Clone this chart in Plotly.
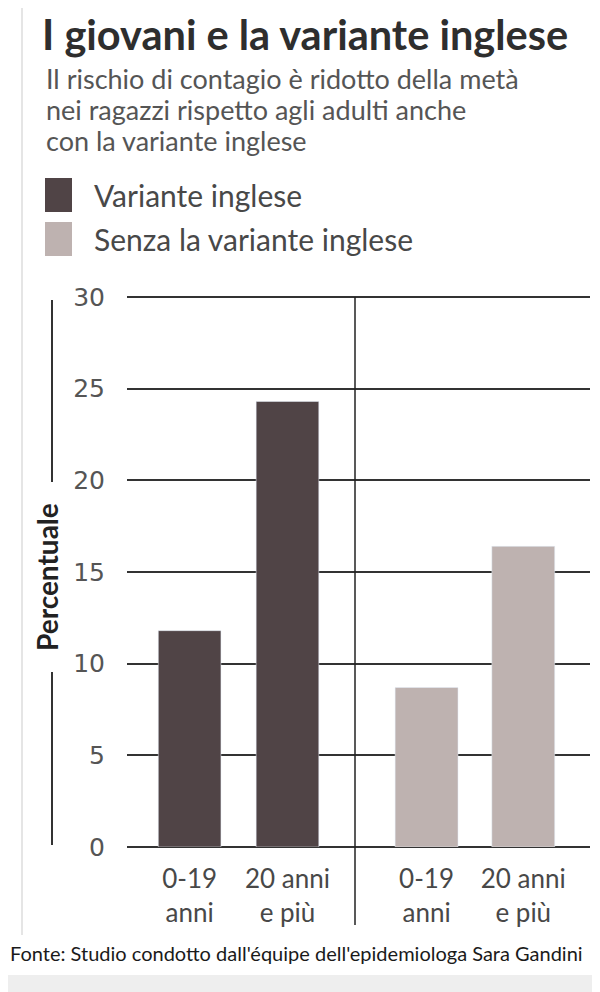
import plotly.graph_objects as go
from plotly.subplots import make_subplots

# data
age_groups = ["0-19<br>anni", "20 anni<br>e più"]
with_variant = [11.8, 24.3]
without_variant = [8.7, 16.4]
series_names = ["Variante inglese", "Senza la variante inglese"]
y_ticks = [0, 5, 10, 15, 20, 25, 30]
y_max = 30.2

dark = "#504446"
light = "#beb2b0"
text_col = "#484848"
OFF = 8  # page body margin
W, H = 600 - OFF, 992 - OFF


def px_x(v):
    return (v - OFF) / W


def px_y(v):
    return 1 - (v - OFF) / H


fig = make_subplots(rows=1, cols=2, shared_yaxes=True, horizontal_spacing=0)

fig.add_trace(go.Bar(x=age_groups, y=with_variant, name=series_names[0],
                     marker_color=dark, width=0.64, showlegend=False), row=1, col=1)
fig.add_trace(go.Bar(x=age_groups, y=without_variant, name=series_names[1],
                     marker_color=light, width=0.65, showlegend=False), row=1, col=2)

# y=0 sits at 847px, y=30 at 297px
plot_bottom = 847
unit = (847 - 297) / 30
plot_top = plot_bottom - unit * y_max
ydom = [px_y(plot_bottom), px_y(plot_top)]

tick_font = dict(family="DejaVu Sans", size=25, color="#555555")
cat_font = dict(family="Lato", size=26, color=text_col)
grid = dict(showgrid=True, gridcolor="#333333", gridwidth=2,
            zeroline=True, zerolinecolor="#333333", zerolinewidth=2,
            range=[0, y_max], tickvals=y_ticks, automargin=False)
fig.update_layout(
    width=W, height=H,
    margin=dict(l=0, r=0, t=0, b=0, autoexpand=False),
    paper_bgcolor="white", plot_bgcolor="white",
    xaxis=dict(domain=[px_x(127), px_x(355)], range=[-0.64, 1.69],
               showgrid=False, zeroline=False, showline=False, automargin=False,
               tickfont=cat_font, ticks="", ticklabelstandoff=14),
    xaxis2=dict(domain=[px_x(355), px_x(590)], range=[-0.74, 1.69],
                showgrid=False, zeroline=False, showline=False, automargin=False,
                tickfont=cat_font, ticks="", ticklabelstandoff=14),
    yaxis=dict(domain=ydom, tickfont=tick_font, ticks="", ticklabelstandoff=21, **grid),
    yaxis2=dict(domain=ydom, showticklabels=False, **grid),
)

shapes = [
    # group separator
    dict(type="line", xref="paper", yref="paper",
         x0=px_x(355), x1=px_x(355), y0=px_y(297), y1=px_y(925),
         line=dict(color="#222222", width=1.5)),
    # bracket around the y title
    dict(type="line", xref="paper", yref="paper",
         x0=px_x(52), x1=px_x(52), y0=px_y(300), y1=px_y(482),
         line=dict(color="#333333", width=2)),
    dict(type="line", xref="paper", yref="paper",
         x0=px_x(52), x1=px_x(52), y0=px_y(672), y1=px_y(845),
         line=dict(color="#333333", width=2)),
    # left frame line
    dict(type="line", xref="paper", yref="paper",
         x0=px_x(22), x1=px_x(22), y0=px_y(8), y1=px_y(935),
         line=dict(color="#dddddd", width=1.5)),
    # legend swatches
    dict(type="rect", xref="paper", yref="paper",
         x0=px_x(45), x1=px_x(72), y0=px_y(212), y1=px_y(178),
         fillcolor=dark, line=dict(width=0)),
    dict(type="rect", xref="paper", yref="paper",
         x0=px_x(45), x1=px_x(72), y0=px_y(256), y1=px_y(222),
         fillcolor=light, line=dict(width=0)),
    # bottom band
    dict(type="rect", xref="paper", yref="paper",
         x0=0, x1=1, y0=0, y1=px_y(975),
         fillcolor="#eeeeee", line=dict(width=0), layer="below"),
]
fig.update_layout(shapes=shapes)

lato = "Lato"
sub_font = dict(family=lato, size=27, color="#555555")
leg_font = dict(family=lato, size=30, color=text_col)
annotations = [
    dict(text="<b>I giovani e la variante inglese</b>", x=px_x(41), y=1,
         yanchor="top", borderpad=0,
         font=dict(family=lato, size=41.5, color="#2e2e2e")),
    dict(text="Il rischio di contagio è ridotto della metà",
         x=px_x(44), y=px_y(78), font=sub_font),
    dict(text="nei ragazzi rispetto agli adulti anche",
         x=px_x(44), y=px_y(109), font=sub_font),
    dict(text="con la variante inglese",
         x=px_x(44), y=px_y(140), font=sub_font),
    dict(text=series_names[0], x=px_x(92), y=px_y(195), font=leg_font),
    dict(text=series_names[1], x=px_x(92), y=px_y(239), font=leg_font),
    dict(text="<b>Percentuale</b>", x=px_x(47), y=px_y(577), textangle=-90,
         xanchor="center",
         font=dict(family=lato, size=28, color="#222222")),
    dict(text="Fonte: Studio condotto dall'équipe dell'epidemiologa Sara Gandini",
         x=px_x(8), y=px_y(953),
         font=dict(family=lato, size=20, color="#1a1a1a")),
]
for a in annotations:
    a.setdefault("xanchor", "left")
    a.setdefault("yanchor", "middle")
    a.update(xref="paper", yref="paper", showarrow=False)
fig.update_layout(annotations=annotations)

fig.write_html("out.html")
